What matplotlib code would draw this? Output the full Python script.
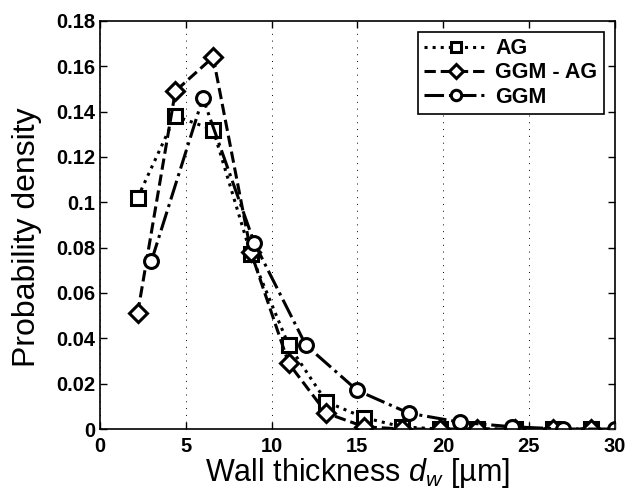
import matplotlib
matplotlib.use("Agg")
import matplotlib.pyplot as plt

# ---------------- Data ----------------
ag_x = [2.2, 4.4, 6.6, 8.8, 11.0, 13.2, 15.4, 17.6, 19.8, 22.0, 24.2, 26.4, 28.6]
ag_y = [0.102, 0.138, 0.132, 0.077, 0.037, 0.012, 0.005, 0.001, 0.0, 0.0, 0.0, 0.0, 0.0]

ggm_ag_x = [2.2, 4.4, 6.6, 8.8, 11.0, 13.2, 15.4, 17.6, 19.8, 22.0, 24.2, 26.4, 28.6]
ggm_ag_y = [0.051, 0.149, 0.164, 0.078, 0.029, 0.007, 0.001, 0.0, 0.0, 0.0, 0.0, 0.0, 0.0]

ggm_x = [3.0, 6.0, 9.0, 12.0, 15.0, 18.0, 21.0, 24.0, 27.0, 30.0]
ggm_y = [0.074, 0.146, 0.082, 0.037, 0.017, 0.007, 0.003, 0.001, 0.0, 0.0]

x_ticks = [0, 5, 10, 15, 20, 25, 30]
y_ticks = [0, 0.02, 0.04, 0.06, 0.08, 0.1, 0.12, 0.14, 0.16, 0.18]
y_tick_labels = ["0", "0.02", "0.04", "0.06", "0.08", "0.1", "0.12", "0.14", "0.16", "0.18"]

# ---------------- Plot ----------------
plt.rcParams['font.family'] = ['Liberation Sans', 'DejaVu Sans']
plt.rcParams['mathtext.fontset'] = 'custom'
plt.rcParams['mathtext.it'] = 'Liberation Sans:italic'
plt.rcParams['mathtext.rm'] = 'Liberation Sans'

fig = plt.figure(figsize=(6.28, 4.96), dpi=100)
ax = fig.add_axes([0.159, 0.135, 0.820, 0.823])

style = dict(color='black', linewidth=2.2, markersize=10, markerfacecolor='white',
             markeredgecolor='black', markeredgewidth=2.2)
ax.plot(ag_x, ag_y, linestyle=':', marker='s', label='AG', **style)
ax.plot(ggm_ag_x, ggm_ag_y, linestyle='--', marker='D', label='GGM - AG',
        **{**style, 'markersize': 9})
ax.plot(ggm_x, ggm_y, linestyle='-.', marker='o', label='GGM', **style)

ax.set_xlim(0, 30)
ax.set_ylim(0, 0.18)
ax.set_xticks(x_ticks)
ax.set_yticks(y_ticks)
ax.set_yticklabels(y_tick_labels)
ax.tick_params(direction='in', top=True, right=True, length=5, width=1, labelsize=14.5)
ax.tick_params(axis='x', pad=6)
for lab in ax.get_xticklabels() + ax.get_yticklabels():
    lab.set_fontweight('bold')

# vertical dotted grid only
ax.xaxis.grid(True, linestyle=(0, (1, 6)), color='black', linewidth=0.7)
for s in ax.spines.values():
    s.set_linewidth(1.2)

ax.set_xlabel(r'Wall thickness $d_w$ [µm]', fontsize=22, labelpad=0)
ax.set_ylabel('Probability density', fontsize=23)
ax.yaxis.set_label_coords(-0.112, 0.47)

leg = ax.legend(loc='upper right', prop={'weight': 'bold', 'size': 15.5},
                fancybox=False, edgecolor='black', framealpha=1,
                handlelength=2.9, borderpad=0.3, labelspacing=0.15,
                handletextpad=0.4, borderaxespad=0.5, markerscale=0.75)
leg.get_frame().set_linewidth(1.2)

fig.savefig("out.png", dpi=100)
